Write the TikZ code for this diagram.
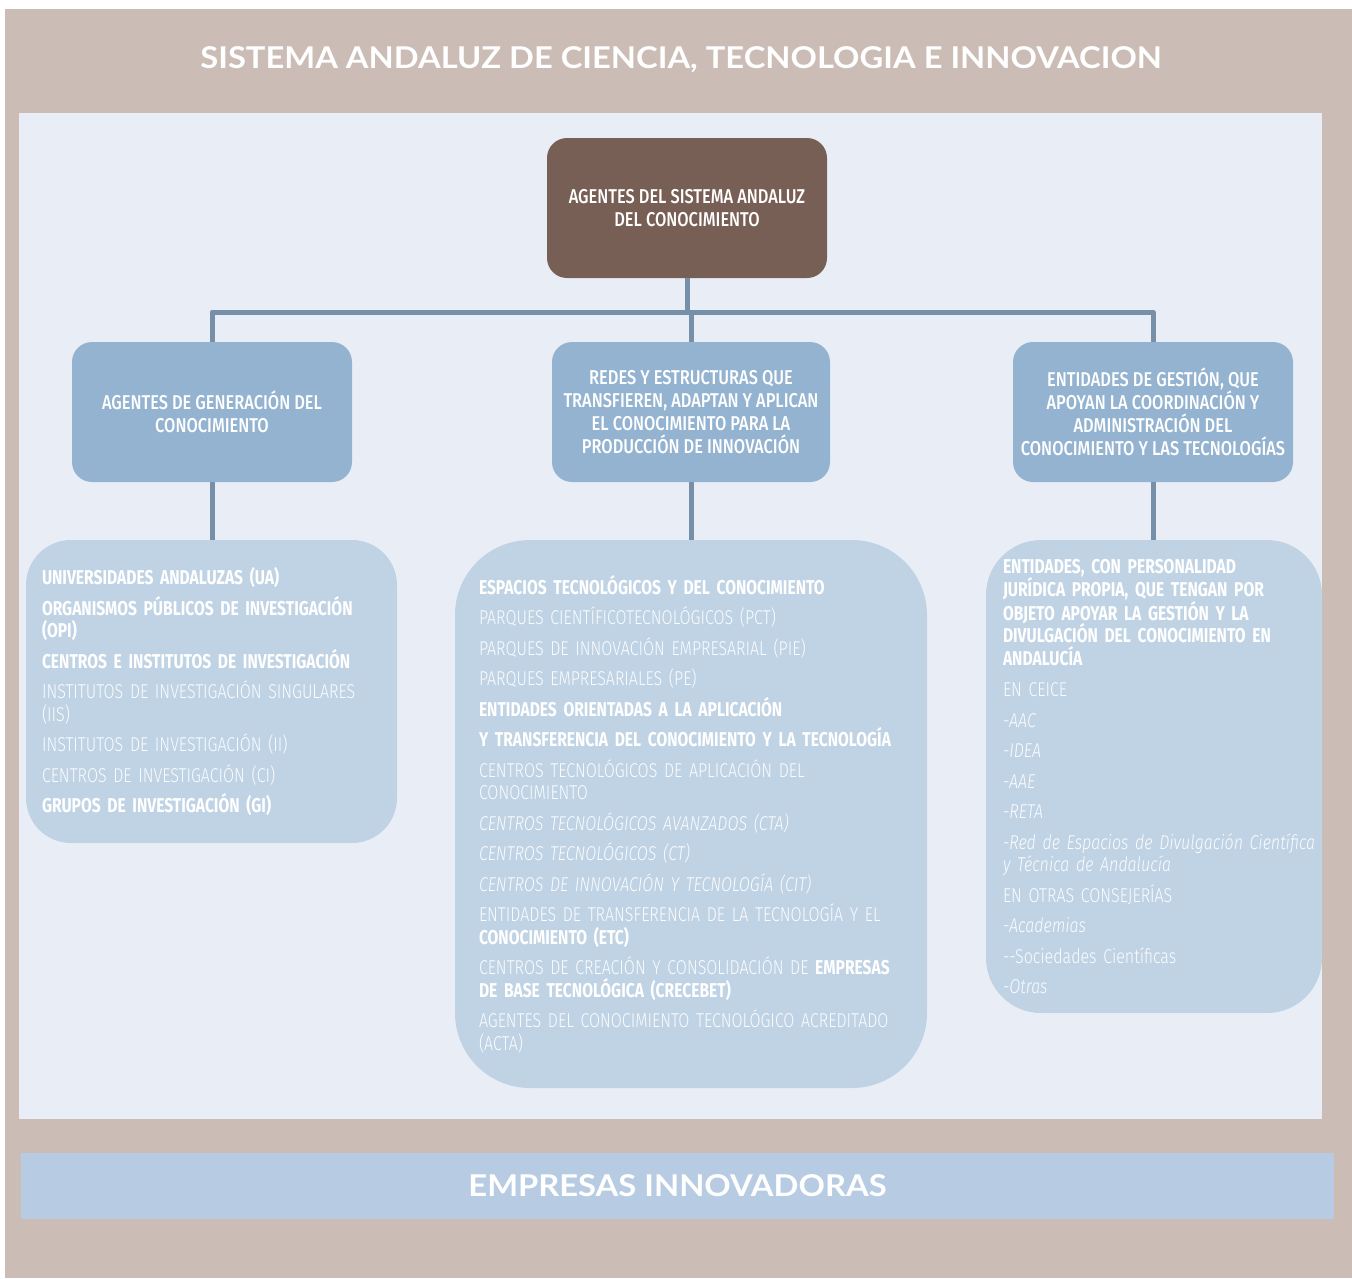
\documentclass[tikz,border=0pt]{standalone}
\usepackage{fontspec}
\setmainfont{Fira Sans}
\newfontfamily\condf[FakeStretch=0.78]{Fira Sans}
\newfontfamily\condm[FakeStretch=0.82,UprightFont=* Medium]{Fira Sans}
\newfontfamily\condl[FakeStretch=0.8,UprightFont=* Light,ItalicFont=* Light Italic]{Fira Sans}
\newfontfamily\titlef[FakeStretch=1.09]{Lato}
\usetikzlibrary{positioning}

\definecolor{frametan}{HTML}{CBBDB5}
\definecolor{panelbg}{HTML}{E9EEF6}
\definecolor{rootbrown}{HTML}{785F55}
\definecolor{levelblue}{HTML}{93B3D1}
\definecolor{listblue}{HTML}{C0D3E4}
\definecolor{bandblue}{HTML}{B7CCE3}
\definecolor{linkblue}{HTML}{7690AA}
\definecolor{pale}{HTML}{FBFCFE}

\newcommand\bd{\condf\bfseries\color{white}}
\newcommand\lt{\condl\color{pale}}

\begin{document}
\begin{tikzpicture}[x=1pt, y=-1pt,
    headbox/.style={rounded corners=20, minimum width=280, minimum height=140,
      text=white, align=center, font=\condm\fontsize{20}{23}\selectfont},
    listbox/.style={fill=listblue, align=left, font=\lt\fontsize{20}{22.5}\selectfont},
    link/.style={draw=linkblue, line width=5, line join=round}]

  % Frame
  \fill[white] (0,0) rectangle (1352,1278);
  \fill[frametan] (5,9) rectangle (1352,1278);
  \fill[panelbg] (19,113) rectangle (1322,1119);
  \node (title) at (681,60) {\titlef\bfseries\fontsize{30}{32}\selectfont\color{white}SISTEMA ANDALUZ DE CIENCIA, TECNOLOGIA E INNOVACION};
  \node[fill=bandblue, minimum width=1313, minimum height=66] (band) at (677.5,1186)
    {\titlef\bfseries\fontsize{30}{32}\selectfont\color{white}EMPRESAS INNOVADORAS};

  % Nodes
  \node[headbox, fill=rootbrown] (top) at (687,208) {AGENTES DEL SISTEMA ANDALUZ\\DEL CONOCIMIENTO};
  \node[headbox, fill=levelblue] (gen) at (212,412) {AGENTES DE GENERACIÓN DEL\\CONOCIMIENTO};
  \node[headbox, fill=levelblue, minimum width=278] (red) at (691,412)
    {REDES Y ESTRUCTURAS QUE\\TRANSFIEREN, ADAPTAN Y APLICAN\\EL CONOCIMIENTO PARA LA\\PRODUCCIÓN DE INNOVACIÓN};
  \node[headbox, fill=levelblue] (ent) at (1153,412)
    {ENTIDADES DE GESTIÓN, QUE\\APOYAN LA COORDINACIÓN Y\\ADMINISTRACIÓN DEL\\CONOCIMIENTO Y LAS TECNOLOGÍAS};

  \node[listbox, rounded corners=45, minimum width=371, minimum height=303, text width=339] (genlist) at (211.5,691.5)
    {{\bd UNIVERSIDADES ANDALUZAS (UA)}\\[8pt]
     {\bd ORGANISMOS PÚBLICOS DE INVESTIGACIÓN\\(OPI)}\\[8pt]
     {\bd CENTROS E INSTITUTOS DE INVESTIGACIÓN}\\[8pt]
     INSTITUTOS DE INVESTIGACIÓN SINGULARES\\(IIS)\\[8pt]
     INSTITUTOS DE INVESTIGACIÓN (II)\\[8pt]
     CENTROS DE INVESTIGACIÓN (CI)\\[8pt]
     {\bd GRUPOS DE INVESTIGACIÓN (GI)}};

  \node[listbox, rounded corners=75, minimum width=472, minimum height=548, text width=424] (redlist) at (691,814)
    {{\bd ESPACIOS TECNOLÓGICOS Y DEL CONOCIMIENTO}\\[8pt]
     PARQUES CIENTÍFICOTECNOLÓGICOS (PCT)\\[8pt]
     PARQUES DE INNOVACIÓN EMPRESARIAL (PIE)\\[8pt]
     PARQUES EMPRESARIALES (PE)\\[8pt]
     {\bd ENTIDADES ORIENTADAS A LA APLICACIÓN}\\[8pt]
     {\bd Y TRANSFERENCIA DEL CONOCIMIENTO Y LA TECNOLOGÍA}\\[8pt]
     CENTROS TECNOLÓGICOS DE APLICACIÓN DEL\\CONOCIMIENTO\\[8pt]
     {\itshape CENTROS TECNOLÓGICOS AVANZADOS (CTA)}\\[8pt]
     {\itshape CENTROS TECNOLÓGICOS (CT)}\\[8pt]
     {\itshape CENTROS DE INNOVACIÓN Y TECNOLOGÍA (CIT)}\\[8pt]
     ENTIDADES DE TRANSFERENCIA DE LA TECNOLOGÍA Y EL\\{\bd CONOCIMIENTO (ETC)}\\[8pt]
     CENTROS DE CREACIÓN Y CONSOLIDACIÓN DE {\bd EMPRESAS}\\{\bd DE BASE TECNOLÓGICA (CRECEBET)}\\[8pt]
     AGENTES DEL CONOCIMIENTO TECNOLÓGICO ACREDITADO\\(ACTA)};

  \node[listbox, rounded corners=55, minimum width=336, minimum height=473, text width=302] (entlist) at (1154,776.5)
    {{\bd ENTIDADES, CON PERSONALIDAD\\JURÍDICA PROPIA, QUE TENGAN POR\\OBJETO APOYAR LA GESTIÓN Y LA\\DIVULGACIÓN DEL CONOCIMIENTO EN\\ANDALUCÍA}\\[9pt]
     EN CEICE\\[8pt]
     {\itshape -AAC}\\[8pt]
     {\itshape -IDEA}\\[8pt]
     {\itshape -AAE}\\[8pt]
     {\itshape -RETA}\\[8pt]
     {\itshape \mbox{-Red de Espacios de Divulgación Científica}\\y Técnica de Andalucía}\\[8pt]
     EN OTRAS CONSEJERÍAS\\[8pt]
     {\itshape -Academias}\\[8pt]
     -{}-Sociedades Científicas\\[8pt]
     {\itshape -Otras}};

  % Links
  \coordinate (bar) at (687,312);
  \draw[link] (gen.north) |- (bar) -| (ent.north);
  \draw[link] (top.south) -- (top.south |- bar);
  \draw[link] (red.north) -- (red.north |- bar);
  \draw[link] (gen.south) -- (gen.south |- genlist.north);
  \draw[link] (red.south) -- (red.south |- redlist.north);
  \draw[link] (ent.south) -- (ent.south |- entlist.north);
\end{tikzpicture}
\end{document}
